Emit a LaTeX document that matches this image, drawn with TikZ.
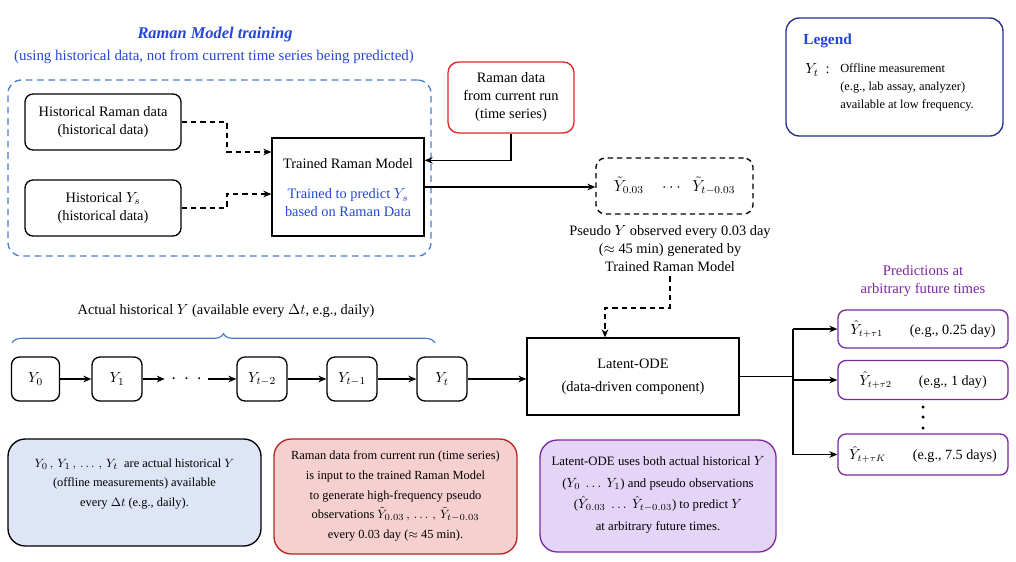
\documentclass[tikz,border=0pt]{standalone}
\usepackage[no-math]{fontspec}
\setmainfont{Liberation Serif}
\usetikzlibrary{arrows.meta,decorations.pathreplacing,calc}
\definecolor{tblue}{RGB}{35,70,215}
\definecolor{fblue}{RGB}{75,125,200}
\definecolor{rred}{RGB}{220,40,40}
\definecolor{dred}{RGB}{185,35,35}
\definecolor{navy}{RGB}{35,45,150}
\definecolor{ppl}{RGB}{125,40,160}
\definecolor{lblue}{RGB}{221,229,246}
\definecolor{lred}{RGB}{246,207,207}
\definecolor{lppl}{RGB}{228,212,248}
\tikzset{
  sz/.style 2 args={minimum width=#1*0.75pt, minimum height=#2*0.75pt},
  rbox/.style={draw, line width=1pt, rounded corners=6pt, align=center, inner sep=0pt},
  sbox/.style={draw, line width=1pt, align=center, inner sep=0pt},
  arr/.style={line width=0.9pt, -{Stealth[length=6pt,width=5pt]}},
  darr/.style={line width=0.9pt, dashed, dash pattern=on 4pt off 3pt, -{Stealth[length=6pt,width=5pt]}},
  ln/.style={line width=0.9pt},
  txt/.style={align=center, inner sep=0pt},
  small/.style={font=\fontsize{9.3}{14.8}\selectfont},
}
\begin{document}
\begin{tikzpicture}[x=0.75pt,y=-0.75pt,font=\fontsize{10.8}{13.5}\selectfont]
\useasboundingbox (0,0) rectangle (1016,561);

% Raman model training
\node[txt, tblue, font=\fontsize{12.3}{14}\selectfont\bfseries\itshape] (ti) at (215,35) {Raman Model training};
\node[txt, tblue, font=\fontsize{11.2}{13}\selectfont] (sub) at (214,57) {(using historical data, not from current time series being predicted)};
\node[draw=fblue, line width=1pt, dashed, dash pattern=on 5pt off 3.5pt, rounded corners=10pt, sz={423}{176}] (fr) at (219.5,168) {};

\node[rbox, sz={156}{56}] (hr) at (103,122) {Historical Raman data\\(historical data)};
\node[rbox, sz={156}{56}] (hy) at (103,208) {Historical $Y_s$\\(historical data)};
\node[sbox, sz={152}{98}] (trm) at (348,187) {};
\node[txt] (trmt) at (348,164) {Trained Raman Model};
\node[txt, tblue] (trmb) at (348,203) {Trained to predict $Y_s$\\based on Raman Data};

\coordinate (j1) at (227,152);
\coordinate (j2) at (227,194);
\draw[darr] (hr.east) -| (j1) -- (j1 -| trm.west);
\draw[darr] (hy.east) -| (j2) -- (j2 -| trm.west);

% current run
\node[draw=rred, line width=1pt, rounded corners=8pt, sz={126}{71}, txt] (rc) at (511,97.5) {Raman data\\from current run\\(time series)};
\draw[arr] (rc.south) |- ([yshift=20pt]trm.east);

% pseudo observations
\node[draw, line width=1pt, dashed, dash pattern=on 4pt off 3pt, rounded corners=7pt, sz={157}{56}, txt, font=\fontsize{11.8}{13}\selectfont] (ds) at (674.5,186) {$\tilde Y_{0.03}\quad\cdots\;\;\tilde Y_{t-0.03}$};
\draw[arr] (trm.east) -- (trm.east -| ds.west);
\node[txt] (cap) at (670,249) {Pseudo $Y$ observed every 0.03 day\\($\approx$ 45 min) generated by\\Trained Raman Model};

% Latent ODE
\node[sbox, sz={212}{77}] (lat) at (633,376.5) {Latent-ODE\\[4pt](data-driven component)};
\coordinate (bend) at (605,308);
\draw[darr] ([yshift=-3pt]cap.south) |- (bend) -- (bend |- lat.north);

% Y chain
\node[txt] (bl) at (226,311) {Actual historical $Y$ (available every $\Delta t$, e.g., daily)};
\draw[fblue, line width=0.9pt, decorate, decoration={brace, amplitude=7pt}] (12,343) -- (435,343);
\node[rbox, sz={48}{44}] (y0) at (35.5,379) {$Y_0$};
\node[rbox, sz={50}{44}] (y1) at (117,379) {$Y_1$};
\node[txt, minimum width=43*0.75pt, font=\fontsize{14}{14}\selectfont] (dots) at (186.5,379) {$\cdot\,\cdot\,\cdot$};
\node[rbox, sz={50}{44}] (yt2) at (262,379) {$Y_{t-2}$};
\node[rbox, sz={50}{44}] (yt1) at (352,379) {$Y_{t-1}$};
\node[rbox, sz={50}{44}] (yt) at (442,379) {$Y_t$};
\draw[arr] (y0) -- (y1);
\draw[arr] (y1) -- (dots);
\draw[arr] (dots) -- (yt2);
\draw[arr] (yt2) -- (yt1);
\draw[arr] (yt1) -- (yt);
\draw[arr] (yt.east) -- (yt.east -| lat.west);

% predictions
\node[txt, ppl, font=\fontsize{11}{14}\selectfont] (pl) at (923,281) {Predictions at\\arbitrary future times};
\node[draw=ppl, line width=1pt, rounded corners=6pt, sz={170}{38}, txt, font=\fontsize{10.6}{12}\selectfont] (p1) at (923,329) {$\hat Y_{t+\tau 1}$\hspace{1.9em}(e.g., 0.25 day)};
\node[draw=ppl, line width=1pt, rounded corners=6pt, sz={170}{39}, txt, font=\fontsize{10.6}{12}\selectfont] (p2) at (923,380) {$\hat Y_{t+\tau 2}$\hspace{1.9em}(e.g., 1 day)};
\node[draw=ppl, line width=1pt, rounded corners=6pt, sz={170}{41}, txt, font=\fontsize{10.6}{12}\selectfont] (p3) at (923,454.5) {$\hat Y_{t+\tau K}$\hspace{1.9em}(e.g., 7.5 days)};
\foreach \yy in {407,417,428} \fill (923,\yy) circle (1.3pt);
\coordinate (br) at (793,377);
\draw[ln] (lat.east) -- (lat.east -| br);
\draw[ln] (br |- p1.west) -- (br |- p3.west);
\draw[arr] (br |- p1.west) -- (p1.west);
\draw[arr] (br |- p2.west) -- (p2.west);
\draw[arr] (br |- p3.west) -- (p3.west);

% legend
\node[draw=navy, line width=1pt, rounded corners=10pt, sz={217}{118}] (leg) at (894.5,77) {};
\node[anchor=west, inner sep=0pt, tblue, font=\fontsize{11.5}{13}\selectfont\bfseries] (legt) at (803,41) {Legend};
\node[anchor=west, inner sep=0pt] (legy) at (805,70) {$Y_t$\ \ :};
\node[anchor=north west, inner sep=0pt, align=left, font=\fontsize{9.3}{13.5}\selectfont] (legx) at (840,63) {Offline measurement\\(e.g., lab assay, analyzer)\\available at low frequency.};

% bottom notes
\node[draw, fill=lblue, line width=1pt, rounded corners=13pt, sz={253}{107}] (nb) at (134.5,492.5) {};
\node[txt, font=\fontsize{9.3}{14.5}\selectfont] (nbt) at (134.5,484) {$Y_0\,,\,Y_1\,,\,\ldots\,,\,Y_t$\ \ are actual historical $Y$\\(offline measurements) available\\every $\Delta t$ (e.g., daily).};
\node[draw=dred, fill=lred, line width=1pt, rounded corners=13pt, sz={243}{115}] (nr) at (395.5,496.5) {};
\node[txt, small] (nrt) at (395.5,496) {Raman data from current run (time series)\\is input to the trained Raman Model\\to generate high-frequency pseudo\\observations $\tilde Y_{0.03}\,,\,\ldots\,,\,\tilde Y_{t-0.03}$\\every 0.03 day ($\approx$ 45 min).};
\node[draw=ppl, fill=lppl, line width=1pt, rounded corners=13pt, sz={236}{112}] (np) at (658,496) {};
\node[txt, font=\fontsize{9.6}{16.2}\selectfont] (npt) at (658,495) {Latent-ODE uses both actual historical $Y$\\($Y_0\ \ldots\ Y_1$) and pseudo observations\\($\hat Y_{0.03}\ \ldots\ \hat Y_{t-0.03}$) to predict $Y$\\at arbitrary future times.};
\end{tikzpicture}
\end{document}
